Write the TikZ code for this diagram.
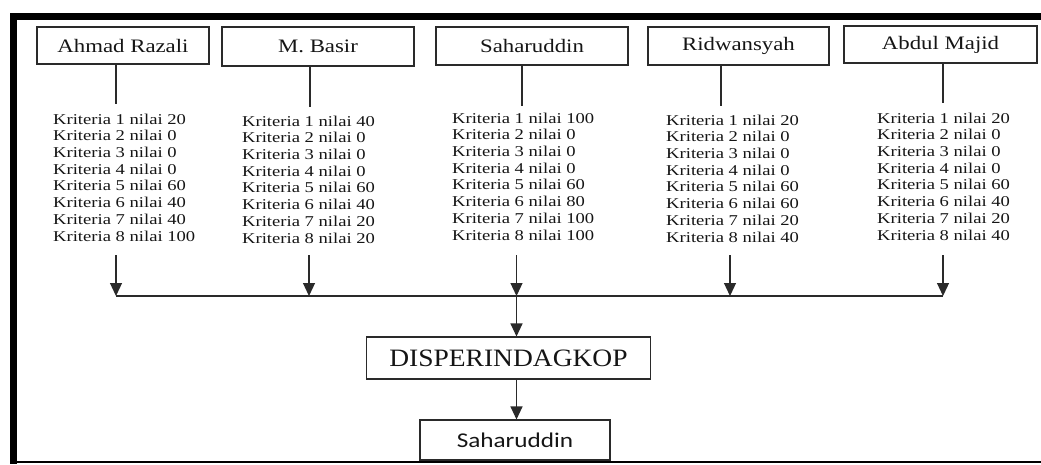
\documentclass[tikz,border=0pt]{standalone}
\usepackage{fontspec}
\usetikzlibrary{arrows.meta}
\newfontfamily\tnr[FakeStretch=1.2]{Liberation Serif}
\newfontfamily\tnrc[FakeStretch=1.24]{Liberation Serif}
\newfontfamily\tnrd[FakeStretch=1.1]{Liberation Serif}
\newfontfamily\calb[FakeStretch=1.2]{Carlito}
\definecolor{ink}{HTML}{151515}
\definecolor{edge}{HTML}{2a2a2a}
\tikzset{
  namebox/.style={draw=edge, line width=1.1pt, inner sep=0pt, text=ink,
    font=\tnr\fontsize{19}{21}\selectfont},
  crit/.style={align=left, inner sep=0pt, anchor=north west, text=ink,
    font=\tnrc\fontsize{15}{16.7}\selectfont},
  conn/.style={draw=edge, line width=1.2pt},
  arr/.style={conn, -{Triangle[width=12pt,length=13pt]}},
}
\begin{document}
\begin{tikzpicture}[x=1pt,y=-1pt]
\useasboundingbox (0,0) rectangle (1041,464);
% frame
\fill[black] (9.5,12.7) rectangle (1041,20);
\fill[black] (9.5,12.7) rectangle (16.7,464);
\draw[black, line width=1.7pt] (16.7,461.8) -- (1041,461.8);

% name boxes
\node[namebox, minimum width=172pt, minimum height=37pt] (a1) at (123,45.5) {Ahmad Razali};
\node[namebox, minimum width=192pt, minimum height=39pt] (a2) at (318,46.5) {M. Basir};
\node[namebox, minimum width=192pt, minimum height=38pt] (a3) at (532,46) {Saharuddin};
\node[namebox, minimum width=181pt, minimum height=38pt] (a4) at (738.5,46) {Ridwansyah};
\node[namebox, minimum width=193pt, minimum height=37pt] (a5) at (940.5,44.5) {Abdul Majid};

% criteria blocks
\node[crit] (t1) at (53,113.5) {Kriteria 1 nilai 20\\Kriteria 2 nilai 0\\Kriteria 3 nilai 0\\Kriteria 4 nilai 0\\Kriteria 5 nilai 60\\Kriteria 6 nilai 40\\Kriteria 7 nilai 40\\Kriteria 8 nilai 100};
\node[crit] (t2) at (242,115.5) {Kriteria 1 nilai 40\\Kriteria 2 nilai 0\\Kriteria 3 nilai 0\\Kriteria 4 nilai 0\\Kriteria 5 nilai 60\\Kriteria 6 nilai 40\\Kriteria 7 nilai 20\\Kriteria 8 nilai 20};
\node[crit] (t3) at (452,112.5) {Kriteria 1 nilai 100\\Kriteria 2 nilai 0\\Kriteria 3 nilai 0\\Kriteria 4 nilai 0\\Kriteria 5 nilai 60\\Kriteria 6 nilai 80\\Kriteria 7 nilai 100\\Kriteria 8 nilai 100};
\node[crit] (t4) at (666,114.5) {Kriteria 1 nilai 20\\Kriteria 2 nilai 0\\Kriteria 3 nilai 0\\Kriteria 4 nilai 0\\Kriteria 5 nilai 60\\Kriteria 6 nilai 60\\Kriteria 7 nilai 20\\Kriteria 8 nilai 40};
\node[crit] (t5) at (877,112.5) {Kriteria 1 nilai 20\\Kriteria 2 nilai 0\\Kriteria 3 nilai 0\\Kriteria 4 nilai 0\\Kriteria 5 nilai 60\\Kriteria 6 nilai 40\\Kriteria 7 nilai 20\\Kriteria 8 nilai 40};

% lower boxes
\node[draw=edge, line width=1.1pt, inner sep=0pt, text=ink, minimum width=284pt, minimum height=42pt,
  font=\tnrd\fontsize{25}{27}\selectfont] (d) at (508.5,358) {DISPERINDAGKOP};
\node[draw=edge, line width=1.1pt, inner sep=0pt, text=ink, minimum width=190pt, minimum height=40pt,
  font=\calb\fontsize{21}{23}\selectfont] (s) at (515,440) {Saharuddin};

% stems below name boxes
\coordinate (l1) at (116,104);
\coordinate (l2) at (310,107);
\coordinate (l3) at (522,106);
\coordinate (l4) at (721,106);
\coordinate (l5) at (943,103);
\foreach \i in {1,...,5}{\draw[conn] (a\i.south -| l\i) -- (l\i);}

% arrows to the bus
\coordinate (b1) at (116,296);
\coordinate (b2) at (309,296);
\coordinate (b3) at (516.5,296);
\coordinate (b4) at (730,296);
\coordinate (b5) at (943,296);
\foreach \i in {1,...,5}{\draw[arr] (b\i |- 0,255) -- (b\i);}
\draw[conn] (b1) -- (b5);
\draw[arr] (b3) -- (b3 |- d.north);
\draw[arr] (d.south -| b3) -- (s.north -| b3);
\end{tikzpicture}
\end{document}
